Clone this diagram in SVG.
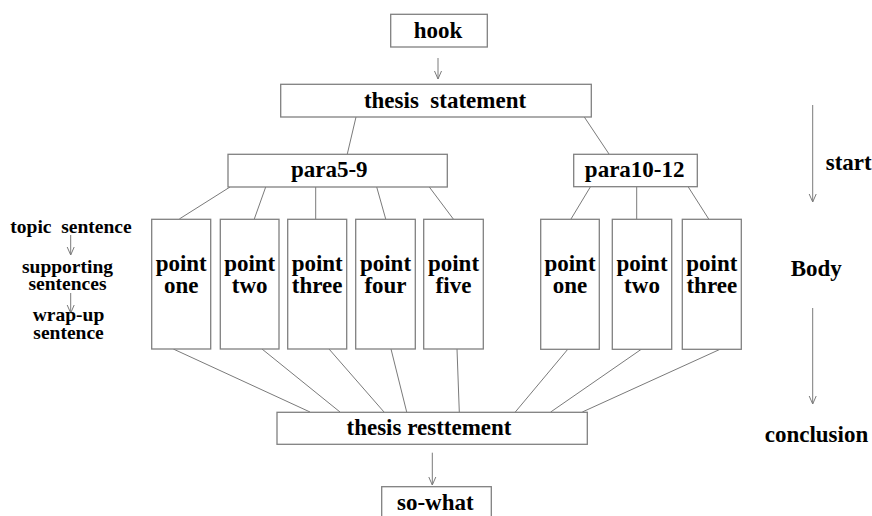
<svg xmlns="http://www.w3.org/2000/svg" width="872" height="516" viewBox="0 0 872 516">
<defs>
<style>
.box{fill:#fff;stroke:#808080;stroke-width:1.3}
.ln{stroke:#7a7a7a;stroke-width:1;fill:none}
.t{font-family:"Liberation Serif","Times New Roman",serif;font-weight:bold;font-size:23px;fill:#000;text-anchor:middle}
.s{font-family:"Liberation Serif","Times New Roman",serif;font-weight:bold;font-size:19.5px;fill:#000;text-anchor:middle}
</style>
<marker id="arr" markerWidth="10" markerHeight="10" refX="9" refY="5" orient="auto" markerUnits="userSpaceOnUse" viewBox="0 0 10 10">
<path d="M1,1.5 L9,5 L1,8.5" fill="none" stroke="#7a7a7a" stroke-width="1"/>
</marker>
</defs>
<rect width="872" height="516" fill="#fff"/>
<g id="connectors">
<line class="ln" x1="438" y1="58" x2="438" y2="79" marker-end="url(#arr)"/>
<line class="ln" x1="356" y1="117" x2="347.3" y2="154"/>
<line class="ln" x1="584.3" y1="117" x2="609" y2="154"/>
<line class="ln" x1="230" y1="187" x2="179.3" y2="219"/>
<line class="ln" x1="265.7" y1="187" x2="254.3" y2="219"/>
<line class="ln" x1="315.7" y1="187" x2="315.7" y2="219"/>
<line class="ln" x1="376.7" y1="187" x2="385.7" y2="219"/>
<line class="ln" x1="429.3" y1="187" x2="453.3" y2="219"/>
<line class="ln" x1="590.3" y1="187" x2="571" y2="219"/>
<line class="ln" x1="636.7" y1="187" x2="636.7" y2="219"/>
<line class="ln" x1="688.3" y1="187" x2="708.7" y2="219"/>
<line class="ln" x1="173.3" y1="349" x2="310" y2="412"/>
<line class="ln" x1="262" y1="349" x2="340" y2="412"/>
<line class="ln" x1="329" y1="349" x2="384" y2="412"/>
<line class="ln" x1="391" y1="349" x2="406.7" y2="412"/>
<line class="ln" x1="457" y1="349" x2="459.3" y2="412"/>
<line class="ln" x1="568" y1="349" x2="515.3" y2="412"/>
<line class="ln" x1="641.7" y1="349" x2="550.7" y2="412"/>
<line class="ln" x1="720.7" y1="349" x2="582.3" y2="412"/>
<line class="ln" x1="432.3" y1="452.7" x2="432.3" y2="485" marker-end="url(#arr)"/>
<line class="ln" x1="70.7" y1="235" x2="70.7" y2="255" marker-end="url(#arr)"/>
<line class="ln" x1="70.7" y1="293" x2="70.7" y2="313" marker-end="url(#arr)"/>
<line class="ln" x1="812.7" y1="105" x2="812.7" y2="202" marker-end="url(#arr)"/>
<line class="ln" x1="812.7" y1="308" x2="812.7" y2="404" marker-end="url(#arr)"/>
</g>
<g id="hook"><rect class="box" x="390.7" y="14.3" width="96.6" height="32.7"/><text class="t" x="438" y="38">hook</text></g>
<g id="thesis"><rect class="box" x="280.7" y="84.3" width="310.6" height="32.7"/><text class="t" x="445" y="107.5" xml:space="preserve">thesis  statement</text></g>
<g id="para5-9"><rect class="box" x="228" y="154.3" width="219.3" height="32.7"/><text class="t" x="329.3" y="177">para5-9</text></g>
<g id="para10-12"><rect class="box" x="573.7" y="154.3" width="123.6" height="32.4"/><text class="t" x="634.7" y="177.3">para10-12</text></g>
<g id="p1"><rect class="box" x="151.7" y="219.3" width="59" height="129.7"/><text class="t" x="181.2" y="271">point<tspan x="181.2" y="293">one</tspan></text></g>
<g id="p2"><rect class="box" x="220.3" y="219.3" width="58.7" height="129.7"/><text class="t" x="249.7" y="271">point<tspan x="249.7" y="293">two</tspan></text></g>
<g id="p3"><rect class="box" x="287.7" y="219.3" width="59" height="129.7"/><text class="t" x="317.2" y="271">point<tspan x="317.2" y="293">three</tspan></text></g>
<g id="p4"><rect class="box" x="355.7" y="219.3" width="59.6" height="129.7"/><text class="t" x="385.5" y="271">point<tspan x="385.5" y="293">four</tspan></text></g>
<g id="p5"><rect class="box" x="423.7" y="219.3" width="59.6" height="129.7"/><text class="t" x="453.5" y="271">point<tspan x="453.5" y="293">five</tspan></text></g>
<g id="q1"><rect class="box" x="540.7" y="219.3" width="58.6" height="130"/><text class="t" x="570" y="271">point<tspan x="570" y="293">one</tspan></text></g>
<g id="q2"><rect class="box" x="612.3" y="219.3" width="59.4" height="130"/><text class="t" x="642" y="271">point<tspan x="642" y="293">two</tspan></text></g>
<g id="q3"><rect class="box" x="682.3" y="219.3" width="59" height="130"/><text class="t" x="711.8" y="271">point<tspan x="711.8" y="293">three</tspan></text></g>
<g id="restatement"><rect class="box" x="277" y="412.3" width="310.3" height="32"/><text class="t" x="429" y="434.5">thesis resttement</text></g>
<g id="sowhat"><rect class="box" x="381.7" y="486.7" width="109.6" height="33"/><text class="t" x="435.3" y="510">so-what</text></g>
<g id="labels-left">
<text class="s" x="71" y="232.7" xml:space="preserve">topic  sentence</text>
<text class="s" x="67.5" y="273">supporting</text>
<text class="s" x="67.5" y="290">sentences</text>
<text class="s" x="68.5" y="321">wrap-up</text>
<text class="s" x="68.5" y="338.5">sentence</text>
</g>
<g id="labels-right">
<text class="t" x="848.7" y="169.5">start</text>
<text class="t" x="816.3" y="276">Body</text>
<text class="t" x="816.5" y="441.5">conclusion</text>
</g>
</svg>
